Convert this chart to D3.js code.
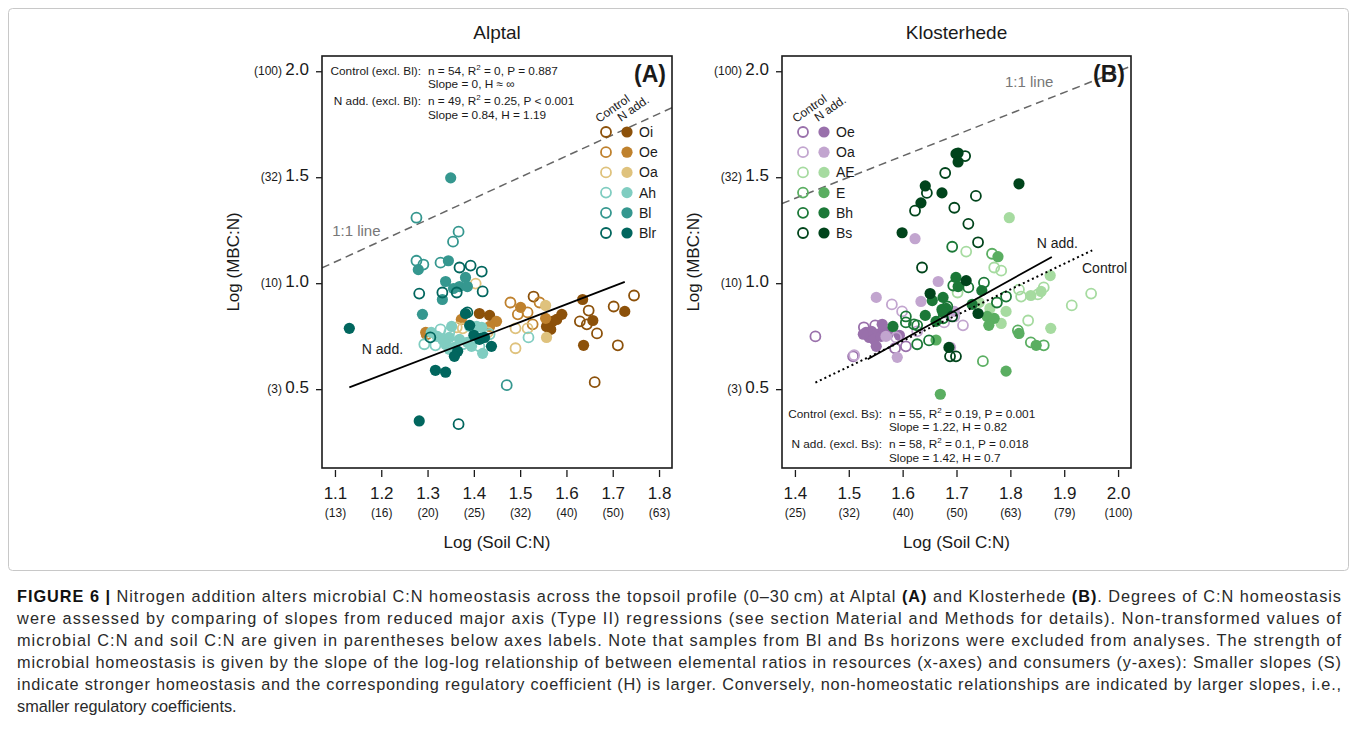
<!DOCTYPE html>
<html><head><meta charset="utf-8">
<script src="https://cdn.jsdelivr.net/npm/d3@7"></script>
<style>
body{margin:0;background:#fff;}
svg text{font-family:'Liberation Sans',Arial,Helvetica,sans-serif;}
</style>
</head><body>
<svg id="c" width="1357" height="744"></svg>
<script>
// ---------------- DATA ----------------
const yTicks = [0.5, 1.0, 1.5, 2.0];
const yRaw = ["(3)", "(10)", "(32)", "(100)"];

const alptalXTicks = [1.1, 1.2, 1.3, 1.4, 1.5, 1.6, 1.7, 1.8];
const alptalXRaw = ["(13)", "(16)", "(20)", "(25)", "(32)", "(40)", "(50)", "(63)"];
const kloXTicks = [1.4, 1.5, 1.6, 1.7, 1.8, 1.9, 2.0];
const kloXRaw = ["(25)", "(32)", "(40)", "(50)", "(63)", "(79)", "(100)"];

const alptalHorizons = ["Oi", "Oe", "Oa", "Ah", "Bl", "Blr"];
const alptalColors = ["#8c510a", "#bf812d", "#dfc27d", "#80cdc1", "#35978f", "#01665e"];
const kloHorizons = ["Oe", "Oa", "AE", "E", "Bh", "Bs"];
const kloColors = ["#9970ab", "#c2a5cf", "#a6dba0", "#5aae61", "#1b7837", "#00441b"];

// Alptal: [log soil C:N, log MBC:N]
const alptal_Oi_control = [[1.529,0.937],[1.629,0.820],[1.644,0.806],[1.666,0.763],[1.702,0.890],[1.711,0.707],[1.746,0.942],[1.648,0.871],[1.661,0.533]];
const alptal_Oi_nadd = [[1.412,0.857],[1.434,0.848],[1.566,0.782],[1.570,0.820],[1.579,0.829],[1.590,0.853],[1.635,0.923],[1.657,0.824],[1.637,0.707],[1.726,0.867],[1.557,0.796]];
const alptal_Oe_control = [[1.479,0.909],[1.542,0.909],[1.516,0.862],[1.527,0.806],[1.298,0.759],[1.495,0.853]];
const alptal_Oe_nadd = [[1.501,0.886],[1.555,0.834],[1.373,0.829],[1.449,0.820],[1.434,0.796],[1.296,0.768]];
const alptal_Oa_control = [[1.404,0.998],[1.490,0.787],[1.516,0.787],[1.490,0.693],[1.363,0.792],[1.376,0.787],[1.430,0.768]];
const alptal_Oa_nadd = [[1.555,0.895],[1.557,0.744]];
const alptal_Ah_control = [[1.317,0.707],[1.518,0.744],[1.412,0.702],[1.434,0.759],[1.347,0.768],[1.328,0.782],[1.376,0.712],[1.293,0.712]];
const alptal_Ah_nadd = [[1.321,0.749],[1.332,0.735],[1.347,0.744],[1.347,0.688],[1.358,0.697],[1.352,0.796],[1.391,0.796],[1.406,0.796],[1.417,0.792],[1.386,0.721],[1.395,0.702],[1.419,0.669],[1.369,0.735],[1.339,0.712],[1.308,0.768]];
const alptal_Bl_control = [[1.276,1.309],[1.367,1.243],[1.355,1.196],[1.276,1.106],[1.291,1.088],[1.328,1.097],[1.471,0.519]];
const alptal_Bl_nadd = [[1.350,1.497],[1.280,1.064],[1.345,1.106],[1.339,1.008],[1.382,1.027],[1.356,0.975],[1.369,0.984],[1.386,0.984],[1.332,0.923],[1.289,0.853]];
const alptal_Blr_control = [[1.369,1.074],[1.393,1.083],[1.417,1.055],[1.282,0.951],[1.332,0.956],[1.363,0.956],[1.419,0.961],[1.306,0.744],[1.367,0.335],[1.386,0.862]];
const alptal_Blr_nadd = [[1.131,0.787],[1.382,0.857],[1.400,0.754],[1.415,0.740],[1.423,0.744],[1.438,0.702],[1.365,0.679],[1.358,0.655],[1.317,0.589],[1.339,0.580],[1.282,0.350],[1.391,0.801],[1.412,0.735]];

// Klosterhede
const klo_Oe_control = [[1.438,0.749],[1.549,0.801],[1.508,0.655],[1.586,0.693],[1.606,0.702],[1.528,0.792]];
const klo_Oe_nadd = [[1.532,0.768],[1.542,0.773],[1.551,0.759],[1.538,0.744],[1.547,0.735],[1.560,0.749],[1.566,0.773],[1.573,0.759],[1.551,0.702],[1.594,0.754],[1.527,0.759],[1.562,0.806]];
const klo_Oa_control = [[1.580,0.900],[1.599,0.867],[1.588,0.744],[1.627,0.773],[1.677,0.815],[1.696,0.843],[1.712,0.801],[1.510,0.660]];
const klo_Oa_nadd = [[1.623,1.210],[1.666,1.008],[1.551,0.933],[1.634,0.914],[1.696,0.867],[1.569,0.749],[1.590,0.650],[1.689,0.697]];
const klo_AE_control = [[1.718,1.149],[1.770,1.074],[1.783,1.059],[1.702,0.956],[1.816,0.970],[1.820,0.937],[1.851,0.947],[1.862,0.980],[1.950,0.951],[1.914,0.895],[1.833,0.824]];
const klo_AE_nadd = [[1.798,1.309],[1.874,1.036],[1.838,0.942],[1.857,0.961],[1.742,0.909],[1.762,0.881],[1.792,0.867],[1.783,0.810],[1.875,0.787]];
const klo_E_control = [[1.766,1.139],[1.749,0.632],[1.814,0.777],[1.838,0.721],[1.862,0.707]];
const klo_E_nadd = [[1.777,1.125],[1.757,0.843],[1.770,0.834],[1.760,0.801],[1.792,0.585],[1.670,0.476],[1.816,0.763],[1.848,0.707],[1.662,0.732]];
const klo_Bh_control = [[1.692,1.172],[1.722,0.980],[1.751,1.003],[1.694,0.989],[1.775,0.909],[1.792,0.937],[1.606,0.843],[1.683,0.890],[1.606,0.815],[1.621,0.806],[1.627,0.801],[1.675,0.834],[1.649,0.730],[1.627,0.712]];
const klo_Bh_nadd = [[1.699,1.027],[1.703,0.984],[1.747,0.965],[1.655,0.918],[1.675,0.933],[1.729,0.900],[1.642,0.848],[1.673,0.876],[1.681,0.881],[1.675,0.862],[1.662,0.820],[1.582,0.796]];
const klo_Bs_control = [[1.716,1.600],[1.679,1.520],[1.645,1.426],[1.736,1.412],[1.623,1.342],[1.696,1.356],[1.722,1.280],[1.740,1.193],[1.636,1.074],[1.692,0.843],[1.688,0.655],[1.699,0.655]];
const klo_Bs_nadd = [[1.699,1.610],[1.703,1.614],[1.703,1.572],[1.642,1.459],[1.673,1.426],[1.816,1.469],[1.634,1.379],[1.599,1.238],[1.718,1.012],[1.651,0.951],[1.740,0.857],[1.686,0.697]];

// regression line end points [x0, x1], [y0, y1]
const alptalNaddLineX = [1.131, 1.726], alptalNaddLineY = [0.508, 1.006];
const kloNaddLineX = [1.535, 1.877], kloNaddLineY = [0.641, 1.124];
const kloControlLineX = [1.438, 1.952], kloControlLineY = [0.531, 1.155];

const alptalStats = ["Control (excl. Bl):", "n = 54, R^2 = 0, P = 0.887", "Slope = 0, H \u2248 \u221e",
                     "N add. (excl. Bl):", "n = 49, R^2 = 0.25, P < 0.001", "Slope = 0.84, H = 1.19"];
const kloStats = ["Control (excl. Bs):", "n = 55, R^2 = 0.19, P = 0.001", "Slope = 1.22, H = 0.82",
                  "N add. (excl. Bs):", "n = 58, R^2 = 0.1, P = 0.018", "Slope = 1.42, H = 0.7"];

// ---------------- DRAW ----------------
const svg = d3.select("#c");
const INK = "#1a1a1a";

svg.append("rect").attr("x", 8.5).attr("y", 8.5).attr("width", 1340).attr("height", 562)
  .attr("rx", 4).attr("fill", "none").attr("stroke", "#c8c8c8").attr("stroke-width", 1);

const yDomain = [0.128, 2.072];

function statText(g, x, yb, s, anchor) {
  const t = g.append("text").attr("x", x).attr("y", yb).attr("font-size", 11.8).attr("fill", INK)
    .attr("text-anchor", anchor || "start");
  const parts = s.split("^2");
  if (parts.length === 1) { t.text(s); return; }
  t.append("tspan").text(parts[0]);
  t.append("tspan").attr("dy", -5).attr("font-size", 8).text("2");
  t.append("tspan").attr("dy", 5).text(parts[1]);
}

function drawPanel(p) {
  const x = d3.scaleLinear().domain(p.xDomain).range([p.left, p.right]);
  const y = d3.scaleLinear().domain(yDomain).range([468, 56]);
  const g = svg.append("g");
  const clipId = "clip" + p.id;
  g.append("clipPath").attr("id", clipId).append("rect")
    .attr("x", p.left).attr("y", 56).attr("width", p.right - p.left).attr("height", 412);

  // title
  g.append("text").attr("x", (p.left + p.right) / 2).attr("y", 39).attr("text-anchor", "middle")
    .attr("font-size", 19).attr("fill", INK).text(p.title);

  // x axis
  const xa = g.append("g").attr("transform", "translate(0,468)")
    .call(d3.axisBottom(x).tickValues(p.xTicks).tickSize(9).tickFormat(d3.format(".1f")));
  xa.select(".domain").remove();
  xa.selectAll(".tick line").attr("stroke", INK).attr("stroke-width", 1.3).attr("y1", 2);
  xa.selectAll(".tick text").attr("y", 31).attr("dy", null).attr("font-size", 17).attr("fill", INK);
  xa.selectAll(".tick").append("text").attr("y", 49).attr("text-anchor", "middle")
    .attr("font-size", 12).attr("fill", INK).text((d, i) => p.xRaw[i]);
  g.append("text").attr("x", (p.left + p.right) / 2).attr("y", 548).attr("text-anchor", "middle")
    .attr("font-size", 17).attr("fill", INK).text("Log (Soil C:N)");

  // y axis
  const ya = g.append("g").attr("transform", `translate(${p.left},0)`)
    .call(d3.axisLeft(y).tickValues(yTicks).tickSize(6).tickFormat(d3.format(".1f")));
  ya.select(".domain").remove();
  ya.selectAll(".tick line").attr("stroke", INK).attr("stroke-width", 1.3);
  ya.selectAll(".tick text").remove();
  ya.selectAll(".tick").append("text").attr("x", -13).attr("dy", "0.35em").attr("text-anchor", "end")
    .attr("fill", INK)
    .each(function (d, i) {
      const t = d3.select(this);
      t.append("tspan").attr("font-size", 12).text(yRaw[i] + " ");
      t.append("tspan").attr("font-size", 17).text(d3.format(".1f")(d));
    });
  g.append("text").attr("transform", `translate(${p.left - 83},262) rotate(-90)`)
    .attr("text-anchor", "middle").attr("font-size", 17).attr("fill", INK).text("Log (MBC:N)");

  // 1:1 line
  const body = g.append("g").attr("clip-path", `url(#${clipId})`);
  body.append("line").attr("x1", x(p.xDomain[0])).attr("y1", y(p.xDomain[0]))
    .attr("x2", x(p.xDomain[1])).attr("y2", y(p.xDomain[1]))
    .attr("stroke", "#666").attr("stroke-width", 1.5).attr("stroke-dasharray", "8,5");

  // points
  p.series.forEach(s => {
    const open = s.treat === "control";
    body.append("g").selectAll("circle").data(s.values).join("circle")
      .attr("cx", d => x(d[0])).attr("cy", d => y(d[1]))
      .attr("r", open ? 5 : 5.6)
      .attr("fill", open ? "none" : s.color)
      .attr("stroke", open ? s.color : "none")
      .attr("stroke-width", 1.8);
  });

  // regression lines
  p.lines.forEach(l => {
    body.append("line").attr("x1", x(l.x[0])).attr("y1", y(l.y[0]))
      .attr("x2", x(l.x[1])).attr("y2", y(l.y[1]))
      .attr("stroke", "#000").attr("stroke-width", l.dotted ? 2 : 1.8)
      .attr("stroke-dasharray", l.dotted ? "2,3" : null);
  });

  // frame
  g.append("rect").attr("x", p.left).attr("y", 56).attr("width", p.right - p.left).attr("height", 412)
    .attr("fill", "none").attr("stroke", INK).attr("stroke-width", 1.6);

  // panel letter
  g.append("text").attr("x", p.right - 6).attr("y", 82).attr("text-anchor", "end")
    .attr("font-size", 23).attr("font-weight", "bold").attr("fill", INK).text(p.letter);

  // legend
  const lg = g.append("g");
  p.horizons.forEach((h, i) => {
    const yy = p.legY + i * 20.2;
    lg.append("circle").attr("cx", p.legX).attr("cy", yy).attr("r", 5).attr("fill", "none")
      .attr("stroke", p.colors[i]).attr("stroke-width", 1.8);
    lg.append("circle").attr("cx", p.legX + 21).attr("cy", yy).attr("r", 5.6).attr("fill", p.colors[i]);
    lg.append("text").attr("x", p.legX + 33).attr("y", yy + 5).attr("font-size", 14).attr("fill", INK).text(h);
  });
  lg.append("text").attr("transform", `translate(${p.legX - 7},${p.legY - 9}) rotate(-35)`)
    .attr("font-size", 12).attr("fill", INK).text("Control");
  lg.append("text").attr("transform", `translate(${p.legX + 15},${p.legY - 10}) rotate(-35)`)
    .attr("font-size", 12).attr("fill", INK).text("N add.");

  // stats
  const st = p.stats;
  statText(g, p.statX - 7, p.statY, st[0], "end");
  statText(g, p.statX, p.statY, st[1]);
  statText(g, p.statX, p.statY + 13, st[2]);
  statText(g, p.statX - 7, p.statY + 30, st[3], "end");
  statText(g, p.statX, p.statY + 30, st[4]);
  statText(g, p.statX, p.statY + 44, st[5]);

  // annotations
  p.notes.forEach(n => {
    g.append("text").attr("x", x(n.x)).attr("y", y(n.y)).attr("font-size", n.size)
      .attr("fill", n.color).text(n.text);
  });
}

function buildSeries(prefix, horizons, colors, store) {
  const out = [];
  horizons.forEach((h, i) => {
    out.push({ treat: "control", color: colors[i], values: store[prefix + h + "_control"] });
    out.push({ treat: "nadd", color: colors[i], values: store[prefix + h + "_nadd"] });
  });
  return out;
}

const alptalStore = { alptal_Oi_control, alptal_Oi_nadd, alptal_Oe_control, alptal_Oe_nadd,
  alptal_Oa_control, alptal_Oa_nadd, alptal_Ah_control, alptal_Ah_nadd, alptal_Bl_control,
  alptal_Bl_nadd, alptal_Blr_control, alptal_Blr_nadd };
const kloStore = { klo_Oe_control, klo_Oe_nadd, klo_Oa_control, klo_Oa_nadd, klo_AE_control,
  klo_AE_nadd, klo_E_control, klo_E_nadd, klo_Bh_control, klo_Bh_nadd, klo_Bs_control, klo_Bs_nadd };

drawPanel({
  id: "A", title: "Alptal", letter: "(A)", left: 322, right: 672, xDomain: [1.072, 1.828],
  xTicks: alptalXTicks, xRaw: alptalXRaw,
  series: buildSeries("alptal_", alptalHorizons, alptalColors, alptalStore),
  horizons: alptalHorizons, colors: alptalColors, legX: 606, legY: 132,
  lines: [{ x: alptalNaddLineX, y: alptalNaddLineY, dotted: false }],
  stats: alptalStats, statX: 428, statY: 75,
  notes: [{ x: 1.094, y: 1.224, text: "1:1 line", size: 15, color: "#777" },
          { x: 1.158, y: 0.668, text: "N add.", size: 14, color: INK }]
});

drawPanel({
  id: "B", title: "Klosterhede", letter: "(B)", left: 782, right: 1131, xDomain: [1.376, 2.024],
  xTicks: kloXTicks, xRaw: kloXRaw,
  series: buildSeries("klo_", kloHorizons, kloColors, kloStore),
  horizons: kloHorizons, colors: kloColors, legX: 803, legY: 132,
  lines: [{ x: kloNaddLineX, y: kloNaddLineY, dotted: false },
          { x: kloControlLineX, y: kloControlLineY, dotted: true }],
  stats: kloStats, statX: 889, statY: 418,
  notes: [{ x: 1.790, y: 1.925, text: "1:1 line", size: 15, color: "#777" },
          { x: 1.849, y: 1.168, text: "N add.", size: 14, color: INK },
          { x: 1.933, y: 1.046, text: "Control", size: 14, color: INK }]
});

// ---------------- CAPTION ----------------
const capLines = [
  [["b", "FIGURE 6 |"], ["n", " Nitrogen addition alters microbial C:N homeostasis across the topsoil profile (0\u201330\u2009cm) at Alptal "], ["b", "(A)"], ["n", " and Klosterhede "], ["b", "(B)"], ["n", ". Degrees of C:N homeostasis"]],
  [["n", "were assessed by comparing of slopes from reduced major axis (Type II) regressions (see section Material and Methods for details). Non-transformed values of"]],
  [["n", "microbial C:N and soil C:N are given in parentheses below axes labels. Note that samples from Bl and Bs horizons were excluded from analyses. The strength of"]],
  [["n", "microbial homeostasis is given by the slope of the log-log relationship of between elemental ratios in resources (x-axes) and consumers (y-axes): Smaller slopes (S)"]],
  [["n", "indicate stronger homeostasis and the corresponding regulatory coefficient (H) is larger. Conversely, non-homeostatic relationships are indicated by larger slopes, i.e.,"]],
  [["n", "smaller regulatory coefficients."]]
];
capLines.forEach((line, i) => {
  const t = svg.append("text").attr("x", 17).attr("y", 602 + i * 22).attr("font-size", 16.3).attr("fill", "#2a2a2a");
  if (i < 5) t.attr("textLength", 1324).attr("lengthAdjust", "spacing");
  line.forEach(([w, s]) => {
    t.append("tspan").attr("font-weight", w === "b" ? "bold" : null)
      .attr("fill", w === "b" ? "#111" : null).text(s);
  });
});
</script>
</body></html>
